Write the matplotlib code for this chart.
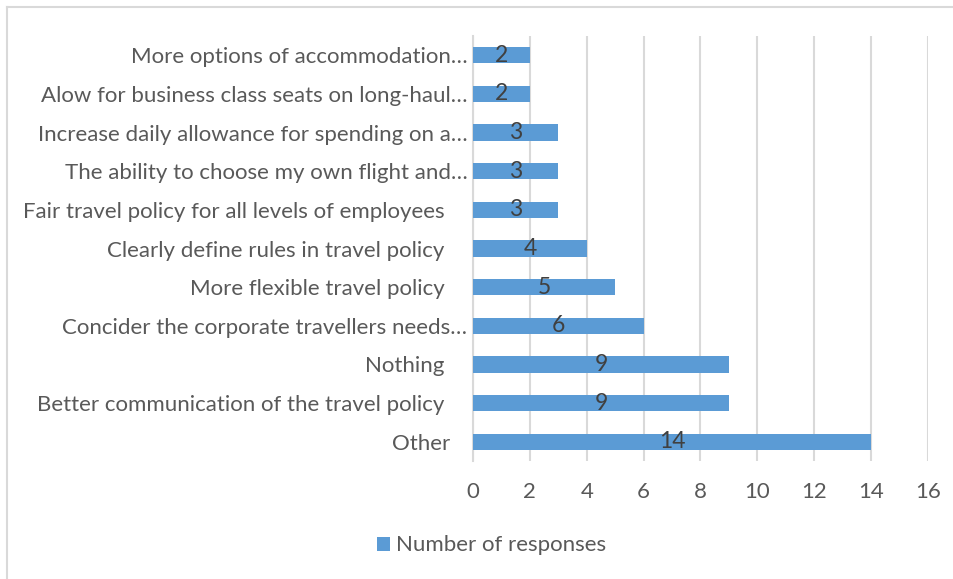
import matplotlib.pyplot as plt
from matplotlib.lines import Line2D

plt.rcParams['font.family'] = ['Lato', 'DejaVu Sans']

categories = [
    'Other   ',
    'Better communication of the travel policy    ',
    'Nothing    ',
    'Concider the corporate travellers needs…',
    'More flexible travel policy    ',
    'Clearly define rules in travel policy    ',
    'Fair travel policy for all levels of employees    ',
    'The ability to choose my own flight and…',
    'Increase daily allowance for spending on a…',
    'Alow for business class seats on long-haul…',
    'More options of accommodation…',
]
responses = [14, 9, 9, 6, 5, 4, 3, 3, 3, 2, 2]
xticks = [0, 2, 4, 6, 8, 10, 12, 14, 16]

bar_color = '#5B9BD5'
text_color = '#595959'
grid_color = '#D9D9D9'

fig = plt.figure(figsize=(9.54, 5.79), dpi=100)
ax = fig.add_axes([0.4958, 0.2038, 0.4769, 0.734])

ypos = list(range(len(categories)))
bars = ax.barh(ypos, responses, height=0.42, color=bar_color, zorder=3,
               label='Number of responses')
for y, v in zip(ypos, responses):
    ax.text(v / 2, y, str(v), ha='center', va='center', fontsize=16.5,
            color='#404040', zorder=4)

ax.set_xlim(0, 16)
ax.set_ylim(-0.5, len(categories) - 0.5)
ax.set_xticks(xticks)
ax.set_yticks(ypos)
ax.set_yticklabels(categories)
ax.tick_params(axis='both', length=0, labelsize=16, colors=text_color)
ax.tick_params(axis='x', pad=15)
ax.tick_params(axis='y', pad=4)
ax.grid(axis='x', color=grid_color, linewidth=1.5, zorder=0)
for side in ['top', 'right', 'bottom']:
    ax.spines[side].set_visible(False)
ax.spines['left'].set_color(grid_color)
ax.spines['left'].set_linewidth(1.5)

fig.legend(handles=[bars], loc='center', bbox_to_anchor=(0.515, 0.058),
           frameon=False, fontsize=16, labelcolor=text_color,
           handlelength=0.6, handleheight=0.6, handletextpad=0.25)

# chart-area border
fig.add_artist(Line2D([7 / 954, 1], [1 - 7 / 579, 1 - 7 / 579],
                      transform=fig.transFigure, color=grid_color, linewidth=1.5))
fig.add_artist(Line2D([7 / 954, 7 / 954], [0, 1 - 7 / 579],
                      transform=fig.transFigure, color=grid_color, linewidth=1.5))

fig.savefig('out.png', dpi=100)
